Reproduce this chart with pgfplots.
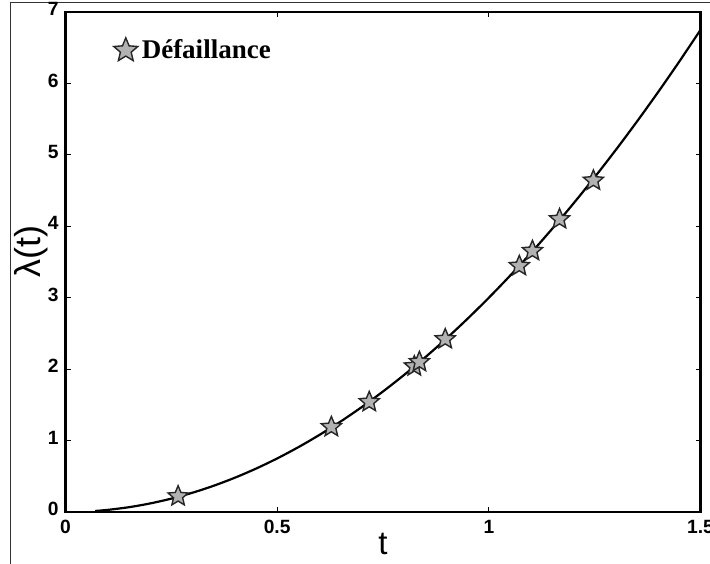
\documentclass[border=0pt]{standalone}
\usepackage{fontspec}
\setmainfont{Liberation Serif}
\setsansfont{Liberation Sans}
\usepackage{pgfplots}
\pgfplotsset{compat=1.18}

% filled five-pointed star
\pgfdeclareplotmark{fstar}{%
  \pgfpathmoveto{\pgfpointpolar{90}{\pgfplotmarksize}}%
  \pgfpathlineto{\pgfpointpolar{126}{0.45\pgfplotmarksize}}%
  \pgfpathlineto{\pgfpointpolar{162}{\pgfplotmarksize}}%
  \pgfpathlineto{\pgfpointpolar{198}{0.45\pgfplotmarksize}}%
  \pgfpathlineto{\pgfpointpolar{234}{\pgfplotmarksize}}%
  \pgfpathlineto{\pgfpointpolar{270}{0.45\pgfplotmarksize}}%
  \pgfpathlineto{\pgfpointpolar{306}{\pgfplotmarksize}}%
  \pgfpathlineto{\pgfpointpolar{342}{0.45\pgfplotmarksize}}%
  \pgfpathlineto{\pgfpointpolar{18}{\pgfplotmarksize}}%
  \pgfpathlineto{\pgfpointpolar{54}{0.45\pgfplotmarksize}}%
  \pgfpathclose
  \pgfusepathqfillstroke
}

\begin{document}
\begin{tikzpicture}
\useasboundingbox (-32.75pt,-25.5pt) rectangle (322.25pt,256pt);
\draw[line width=0.5pt, black!80] (-27.75pt,-40pt) -- (-27.75pt,254.5pt) -- (340pt,254.5pt);
\begin{axis}[
  at={(0pt,0pt)}, anchor=south west,
  scale only axis,
  width=317.5pt, height=250pt,
  xmin=0, xmax=1.5, ymin=0, ymax=7,
  xtick={0,0.5,1,1.5},
  xticklabels={0,0.5,1,1.5},
  ytick={0,1,2,3,4,5,6,7},
  axis line style={line width=1.3pt},
  tick style={black, line width=0.5pt},
  major tick length=2.5pt,
  tick align=inside,
  ticklabel style={font=\fontsize{9.6}{11}\sffamily\bfseries},
  /pgf/number format/assume math mode=true,
  xticklabel style={yshift=-0.5pt},
  yticklabel style={xshift=0pt, yshift=1.5pt},
  xlabel={t},
  ylabel={λ(t)},
  xlabel style={font=\fontsize{16.5}{18}\sffamily, yshift=7pt},
  ylabel style={font=\fontsize{18}{20}\sffamily, yshift=-7pt, xshift=5.5pt},
  legend style={draw=none, fill=none, at={(0.066,0.962)}, anchor=north west,
    font=\fontsize{13.5}{15}\bfseries, legend cell align=left},
  legend image post style={mark size=6.3pt},
]
% hazard curve
\addplot[black, line width=1.1pt, smooth, forget plot] coordinates {
  (0.07,0.0147) (0.1,0.03) (0.15,0.0675) (0.2,0.12) (0.25,0.1875)
  (0.3,0.27) (0.35,0.3675) (0.4,0.48) (0.45,0.6075) (0.5,0.75)
  (0.55,0.9075) (0.6,1.08) (0.65,1.2675) (0.7,1.47) (0.75,1.6875)
  (0.8,1.92) (0.85,2.1675) (0.9,2.43) (0.95,2.7075) (1.0,3.0)
  (1.05,3.3075) (1.1,3.63) (1.15,3.9675) (1.2,4.32) (1.25,4.6875)
  (1.3,5.07) (1.35,5.4675) (1.4,5.88) (1.45,6.3075) (1.5,6.75)
};
% observed failures
\addplot[only marks, mark=fstar, mark size=5.3pt,
  mark options={fill=black!30, draw=black!85, line width=0.7pt}] coordinates {
  (0.266,0.22) (0.628,1.19) (0.7175,1.54) (0.824,2.04) (0.836,2.10)
  (0.897,2.42) (1.072,3.445) (1.103,3.655) (1.167,4.10) (1.247,4.64)
};
\addlegendentry{Défaillance}
\end{axis}
\end{tikzpicture}
\end{document}
